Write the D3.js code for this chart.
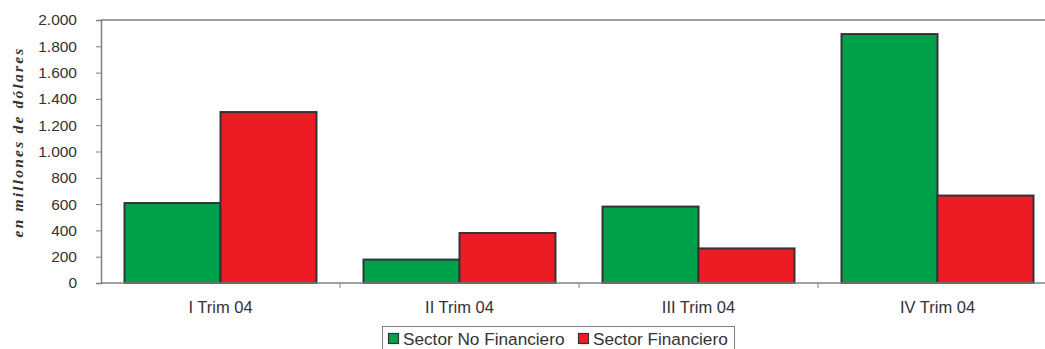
<!DOCTYPE html>
<html>
<head>
<meta charset="utf-8">
<script src="https://cdn.jsdelivr.net/npm/d3@7"></script>
<style>
  html, body { margin: 0; padding: 0; background: #fff; }
  svg { display: block; }
  text { font-family: "Liberation Sans", Arial, sans-serif; fill: #333; }
</style>
</head>
<body>
<svg id="chart" width="1045" height="349"></svg>
<script>
// Quarterly amounts, millions of dollars
const quarters = ["I Trim 04", "II Trim 04", "III Trim 04", "IV Trim 04"];
const seriesNames = ["Sector No Financiero", "Sector Financiero"];
const noFinanciero = [608, 178, 581, 1893];
const financiero = [1300, 380, 263, 665];
const seriesColors = ["#00a14b", "#ed1c24"];
const yTicks = [0, 200, 400, 600, 800, 1000, 1200, 1400, 1600, 1800, 2000];

const svg = d3.select("#chart");
const plot = { left: 101, top: 20, bottom: 283, band: 239 };

const x0 = d3.scaleBand()
  .domain(quarters)
  .range([plot.left, plot.left + plot.band * quarters.length])
  .paddingInner(0).paddingOuter(0);

const x1 = d3.scaleBand()
  .domain(seriesNames)
  .range([0, x0.bandwidth()])
  .paddingInner(0)
  .paddingOuter(0.245);

const y = d3.scaleLinear().domain([0, 2000]).range([plot.bottom, plot.top]);

const fmt = v => d3.format(",")(v).replace(/,/g, ".");

// top frame line
svg.append("line")
  .attr("x1", plot.left).attr("x2", 1045)
  .attr("y1", plot.top).attr("y2", plot.top)
  .attr("stroke", "#808080").attr("stroke-width", 1.5);

// bars
const rows = quarters.map((q, i) => ({ q, vals: [noFinanciero[i], financiero[i]] }));
const groups = svg.append("g").selectAll("g").data(rows).join("g")
  .attr("transform", d => `translate(${x0(d.q)},0)`);
groups.selectAll("rect")
  .data(d => d.vals.map((v, k) => ({ name: seriesNames[k], v, k })))
  .join("rect")
  .attr("x", d => x1(d.name))
  .attr("width", x1.bandwidth())
  .attr("y", d => y(d.v))
  .attr("height", d => y(0) - y(d.v))
  .attr("fill", d => seriesColors[d.k])
  .attr("stroke", "#333")
  .attr("stroke-width", 2);

// y axis
const yAxis = svg.append("g")
  .attr("transform", `translate(${plot.left},0)`)
  .call(d3.axisLeft(y).tickValues(yTicks).tickFormat(fmt).tickSize(5).tickPadding(19));
yAxis.select(".domain").attr("stroke", "#808080").attr("stroke-width", 1.5);
yAxis.selectAll(".tick line").attr("stroke", "#808080");
yAxis.selectAll("text").style("font-size", "15.5px").attr("fill", "#333");

// x axis: baseline with separators between quarters
const xAxis = svg.append("g").attr("transform", `translate(0,${plot.bottom})`);
xAxis.append("line")
  .attr("x1", plot.left).attr("x2", 1045)
  .attr("stroke", "#808080").attr("stroke-width", 1.5);
xAxis.selectAll("line.sep")
  .data(quarters.slice(1))
  .join("line").attr("class", "sep")
  .attr("x1", d => x0(d)).attr("x2", d => x0(d))
  .attr("y1", 0).attr("y2", 5)
  .attr("stroke", "#808080");
xAxis.selectAll("text")
  .data(quarters)
  .join("text")
  .attr("x", d => x0(d) + x0.bandwidth() / 2)
  .attr("y", 30)
  .attr("text-anchor", "middle")
  .style("font-size", "16.5px")
  .text(d => d);

// y axis title
svg.append("text")
  .attr("transform", "translate(23,142) rotate(-90)")
  .attr("text-anchor", "middle")
  .style("font-family", "'Liberation Serif', 'Times New Roman', serif")
  .style("font-style", "italic")
  .style("font-weight", "bold")
  .style("font-size", "15.5px")
  .style("letter-spacing", "2.2px")
  .attr("fill", "#333")
  .text("en millones de dólares");

// legend
const legend = svg.append("g");
legend.append("rect")
  .attr("x", 382.5).attr("y", 326.5)
  .attr("width", 352).attr("height", 30)
  .attr("fill", "#fff").attr("stroke", "#808080");
const legendX = [388, 578];
const items = legend.selectAll("g.item")
  .data(seriesNames)
  .join("g").attr("class", "item")
  .attr("transform", (d, i) => `translate(${legendX[i]},0)`);
items.append("rect")
  .attr("x", 0.5).attr("y", 333.5)
  .attr("width", 10).attr("height", 10)
  .attr("fill", (d, i) => seriesColors[i])
  .attr("stroke", "#333").attr("stroke-width", 1.2);
items.append("text")
  .attr("x", 15).attr("y", 344.5)
  .style("font-size", "17.2px")
  .text(d => d);
</script>
</body>
</html>
